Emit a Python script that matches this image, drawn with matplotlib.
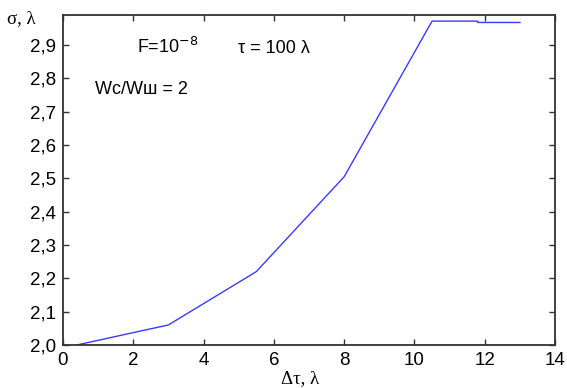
import matplotlib
matplotlib.use('Agg')
import matplotlib.pyplot as plt
import numpy as np

dtau = [0.4, 3.0, 5.5, 8.0, 10.5, 11.8, 11.8, 13.0]
sigma = [2.0, 2.06, 2.22, 2.505, 2.972, 2.972, 2.968, 2.968]

xticks = [0, 2, 4, 6, 8, 10, 12, 14]
yticks = [2.0, 2.1, 2.2, 2.3, 2.4, 2.5, 2.6, 2.7, 2.8, 2.9]

plt.rcParams['font.family'] = ['Liberation Sans', 'DejaVu Sans']

fig = plt.figure(figsize=(5.67, 3.88), dpi=100)
ax = fig.add_axes([0.111, 0.111, 0.868, 0.85])
ax.plot(dtau, sigma, color='#3a3aff', lw=1.0)

ax.set_xlim(0, 14)
ax.set_ylim(2.0, 2.99)
ax.set_xticks(xticks)
ax.set_xticklabels([str(t) for t in xticks], fontsize=13.5)
ax.set_yticks(yticks)
ax.set_yticklabels([('%.1f' % t).replace('.', ',') for t in yticks], fontsize=13.5)
ax.tick_params(direction='in', top=True, right=True, length=4, width=1, pad=5,
               color='#333333')
for s in ax.spines.values():
    s.set_linewidth(1.3)
    s.set_color('#333333')

ax.text(0.15, 0.885, r'F=10$^{-8}$', transform=ax.transAxes, fontsize=13)
ax.text(0.355, 0.885, 'τ = 100 λ', transform=ax.transAxes, fontsize=13)
ax.text(0.065, 0.76, 'Wc/Wш = 2', transform=ax.transAxes, fontsize=13)

fig.text(0.012, 0.94, 'σ, λ', fontsize=13.5, family='Liberation Serif')
fig.text(0.53, 0.012, 'Δτ, λ', fontsize=13.5, family='Liberation Serif', ha='center')

fig.savefig('out.png', dpi=100)
